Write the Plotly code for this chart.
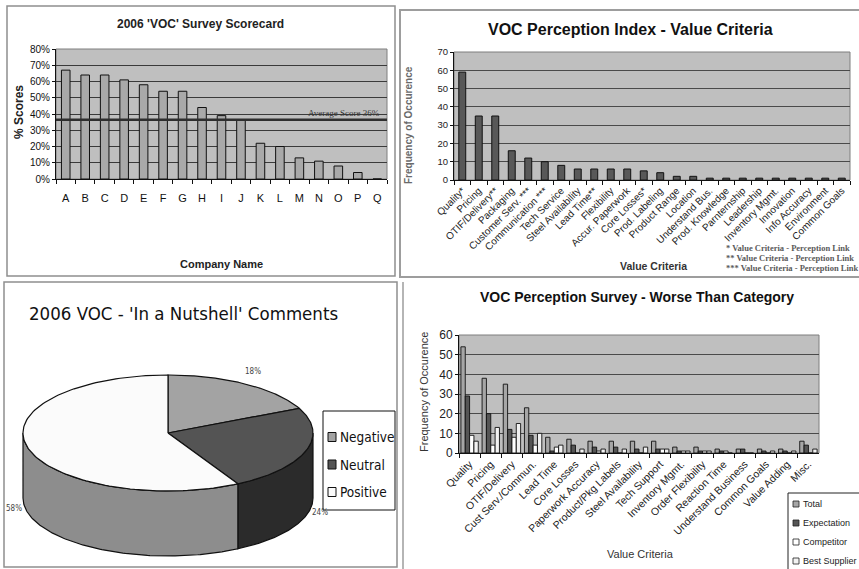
import numpy as np
import plotly.graph_objects as go

W, H = 859, 569

# ---- 2006 'VOC' Survey Scorecard (percent scores per company)
companies = list("ABCDEFGHIJKLMNOPQ")
scores_pct = [67, 64, 64, 61, 58, 54, 54, 44, 39, 36, 22, 20, 13, 11, 8, 4, 0]

# ---- VOC Perception Index - Value Criteria
criteria = ["Quality*", "Pricing", "OTIF/Delivery**", "Packaging", "Customer Serv. ***",
            "Communication ***", "Tech Service", "Steel Availability", "Lead Time**",
            "Flexibility", "Accur. Paperwork", "Core Losses*", "Prod. Labeling",
            "Product Range", "Location", "Understand Bus.", "Prod. Knowledge",
            "Parnternship", "Leadership", "Inventory Mgmt.", "Innovation",
            "Info Accuracy", "Environment", "Common Goals"]
criteria_freq = [59, 35, 35, 16, 12, 10, 8, 6, 6, 6, 6, 5, 4, 2, 2,
                 1, 1, 1, 1, 1, 1, 1, 1, 1]
footnotes = ["* Value Criteria - Perception Link",
             "** Value Criteria - Perception Link",
             "*** Value Criteria - Perception Link"]

# ---- 2006 VOC - 'In a Nutshell' Comments
comment_types = ["Negative", "Neutral", "Positive"]
comment_pct = [18, 24, 58]

# ---- VOC Perception Survey - Worse Than Category
worse_categories = ["Quality", "Pricing", "OTIF/Delivery", "Cust Serv./Commun.", "Lead Time",
                    "Core Losses", "Paperwork Accuracy", "Product/Pkg Labels",
                    "Steel Availability", "Tech Support", "Inventory Mgmt.",
                    "Order Flexibility", "Reaction Time", "Understand Business",
                    "Common Goals", "Value Adding", "Misc."]
worse_series = ["Total", "Expectation", "Competitor", "Best Supplier"]
worse_total = [54, 38, 35, 23, 8, 7, 6, 6, 6, 6, 3, 3, 2, 2, 2, 2, 6]
worse_expectation = [29, 20, 12, 9, 1, 4, 3, 3, 2, 2, 1, 1, 1, 2, 1, 1, 4]
worse_competitor = [9, 4, 8, 4, 3, 0, 1, 0, 0, 2, 1, 1, 1, 0, 0, 0, 0]
worse_best = [6, 13, 15, 10, 4, 2, 2, 2, 3, 2, 1, 1, 0, 0, 1, 1, 2]

ARIAL = "Arial, Liberation Sans, Helvetica, sans-serif"
NARROW = "Liberation Sans Narrow, Arial Narrow, DejaVu Sans Condensed, sans-serif"
SERIF = "Times New Roman, Liberation Serif, serif"
PLOT_BG = "#bfbfbf"


def px(x):
    return x / W


def py(y):
    return 1 - y / H


annotations = []


def label(text, x, y, size, family=ARIAL, color="#111", angle=0,
          xanchor="center", yanchor="middle", xref="paper", yref="paper"):
    if xref == "paper":
        x = px(x)
    if yref == "paper":
        y = py(y)
    annotations.append(dict(text=text, x=x, y=y, xref=xref, yref=yref,
                            showarrow=False, textangle=angle,
                            xanchor=xanchor, yanchor=yanchor,
                            font=dict(size=size, family=family, color=color)))


fig = go.Figure()

# ---------------- scorecard bars
fig.add_trace(go.Bar(
    x=companies, y=[s / 100 for s in scores_pct], xaxis="x", yaxis="y",
    width=0.44, marker=dict(color="#a9a9a9", line=dict(color="#111", width=1)),
    hoverinfo="skip", showlegend=False))
avg_score = float(np.mean(scores_pct)) / 100

# ---------------- perception index bars
fig.add_trace(go.Bar(
    x=criteria, y=criteria_freq, xaxis="x2", yaxis="y2",
    width=0.42, marker=dict(color="#585858", line=dict(color="#111", width=1)),
    hoverinfo="skip", showlegend=False))

# ---------------- worse-than grouped bars
worse_values = [worse_total, worse_expectation, worse_competitor, worse_best]
worse_colors = ["#a6a6a6", "#555555", "#ffffff", "#f2f2f2"]
for name, vals, col in zip(worse_series, worse_values, worse_colors):
    fig.add_trace(go.Bar(
        x=worse_categories, y=vals, name=name, xaxis="x3", yaxis="y3",
        marker=dict(color=col, line=dict(color="#111", width=0.9)),
        hoverinfo="skip", showlegend=False))

# ---------------- 3-D style pie built from the comment shares
cx, cy, rx, ry, depth = 168, 433, 145, 58, 65
top_colors = ["#a3a3a3", "#545454", "#fbfbfb"]
side_colors = ["#7a7a7a", "#2b2b2b", "#8d8d8d"]
total = float(sum(comment_pct))
start = 90.0
tops, sides, pct_labels = [], [], []
for name, share, tcol, scol in zip(comment_types, comment_pct, top_colors, side_colors):
    span = 360.0 * share / total
    a0, a1 = start, start - span
    t = np.radians(np.linspace(a0, a1, 120))
    xs = np.concatenate([[cx], cx + rx * np.cos(t), [cx]])
    ys = np.concatenate([[cy], cy - ry * np.sin(t), [cy]])
    tops.append((xs, ys, tcol))
    lo, hi = max(a1, -180.0), min(a0, 0.0)
    if hi > lo:
        ts = np.radians(np.linspace(hi, lo, 120))
        sx = np.concatenate([cx + rx * np.cos(ts), (cx + rx * np.cos(ts))[::-1]])
        sy = np.concatenate([cy - ry * np.sin(ts), (cy - ry * np.sin(ts) + depth)[::-1]])
        sides.append((np.append(sx, sx[0]), np.append(sy, sy[0]), scol))
    m = np.radians((a0 + a1) / 2)
    lx = cx + 1.1 * rx * np.cos(m)
    ly = cy - 1.25 * ry * np.sin(m) + (0.88 * depth if np.sin(m) < 0 else 0)
    pct_labels.append((f"{share}%", lx, ly))
    start = a1

for xs, ys, col in sides + tops:
    fig.add_trace(go.Scatter(
        x=xs, y=ys, xaxis="x4", yaxis="y4", mode="lines", fill="toself",
        fillcolor=col, line=dict(color="#111", width=1.2),
        hoverinfo="skip", showlegend=False))

for text, lx, ly in pct_labels:
    label(text, lx, ly, 8, family=NARROW, color="#444", xref="x4", yref="y4")

# ---------------- shapes: panel frames, plot backgrounds, average line, legends
shapes = []


def frame(x0, y0, x1, y1, color="#8f8f8f", width=1.5):
    shapes.append(dict(type="rect", xref="paper", yref="paper",
                       x0=px(x0), x1=px(x1), y0=py(y1), y1=py(y0),
                       line=dict(color=color, width=width), fillcolor="rgba(0,0,0,0)",
                       layer="below"))


frame(7, 6, 395, 276)
frame(400, 10, 880, 277, color="#9d9d9d", width=2)
frame(4, 282, 397, 567)
shapes.append(dict(type="line", xref="paper", yref="paper", x0=px(403), x1=px(403),
                   y0=py(282), y1=py(575), line=dict(color="#9d9d9d", width=1.5)))

for ax in ["x", "x2", "x3"]:
    yax = "y" + ax[1:]
    shapes.append(dict(type="rect", xref=f"{ax} domain", yref=f"{yax} domain",
                       x0=0, x1=1, y0=0, y1=1, fillcolor=PLOT_BG,
                       line=dict(color="#7f7f7f", width=1), layer="below"))

shapes.append(dict(type="line", xref="x domain", yref="y", x0=0, x1=1,
                   y0=avg_score, y1=avg_score, line=dict(color="#2e2e2e", width=2.5)))
label(f"Average Score {avg_score * 100:.0f}%", 0.985, avg_score, 9, family=SERIF,
      color="#333", xanchor="right", yanchor="bottom", xref="x domain", yref="y")

# pie legend
shapes.append(dict(type="rect", xref="x4", yref="y4", x0=323, x1=395, y0=411, y1=510,
                   line=dict(color="#111", width=1), fillcolor="white"))
for i, (name, col) in enumerate(zip(comment_types, top_colors)):
    ey = 437 + i * 27.5
    shapes.append(dict(type="rect", xref="x4", yref="y4", x0=328, x1=336,
                       y0=ey - 4.5, y1=ey + 4.5, fillcolor=col,
                       line=dict(color="#111", width=1)))
    label(name, 338, ey, 13.5, family=NARROW, color="#111", xanchor="left",
          xref="x4", yref="y4")

# worse-than legend
shapes.append(dict(type="rect", xref="paper", yref="paper", x0=px(788), x1=px(880),
                   y0=py(580), y1=py(493), line=dict(color="#222", width=1),
                   fillcolor="white"))
for i, (name, col) in enumerate(zip(worse_series, worse_colors)):
    ey = 504 + i * 19
    shapes.append(dict(type="rect", xref="paper", yref="paper", x0=px(793), x1=px(799),
                       y0=py(ey + 3), y1=py(ey - 3), fillcolor=col,
                       line=dict(color="#222", width=0.8)))
    label(name, 801, ey, 9, color="#222", xanchor="left")

# ---------------- titles and axis titles
label("<b>2006 'VOC' Survey Scorecard</b>", 200, 24, 12, color="#222")
label("<b>% Scores</b>", 19, 112, 12, color="#222", angle=-90)
label("<b>Company Name</b>", 221, 264, 11, color="#222")

label("<b>VOC Perception Index - Value Criteria</b>", 630, 30, 16, color="#111")
label("<b>Frequency of Occurence</b>", 409, 125, 10, color="#6a6a6a", angle=-90)
label("<b>Value Criteria</b>", 653, 266, 10.5, color="#333")
for i, note in enumerate(footnotes):
    label(f"<b>{note}</b>", 724, 248 + i * 10, 8.5, family=SERIF, color="#5a5a5a",
          xanchor="left")

label("2006 VOC - 'In a Nutshell' Comments", 183, 313, 18.5, family=NARROW, color="#111")

label("<b>VOC Perception Survey - Worse Than Category</b>", 637, 297, 14, color="#111")
label("Frequency of Occurence", 424, 392, 11, color="#333", angle=-90)
label("Value Criteria", 640, 554, 11, color="#333")

# ---------------- axes
common = dict(showline=True, linecolor="#111", linewidth=1, ticks="outside",
              tickcolor="#111", zeroline=False, fixedrange=True, automargin=False)

fig.update_layout(
    width=W, height=H, template="none",
    margin=dict(l=0, r=0, t=0, b=0, pad=0, autoexpand=False),
    paper_bgcolor="white", plot_bgcolor="rgba(0,0,0,0)",
    showlegend=False, barmode="group", bargap=0.18, bargroupgap=0,
    shapes=shapes, annotations=annotations,
    xaxis=dict(domain=[px(56), px(387)], anchor="y", type="category",
               tickson="boundaries", ticklen=4, showgrid=False, ticklabelstandoff=9,
               tickfont=dict(size=11, family=ARIAL, color="#111"), **common),
    yaxis=dict(domain=[py(179), py(49)], anchor="x", range=[0, 0.8], dtick=0.1,
               tickformat=".0%", ticklen=3, showgrid=True, gridcolor="#3a3a3a",
               gridwidth=1, tickfont=dict(size=10, family=ARIAL, color="#111"), **common),
    xaxis2=dict(domain=[px(454), px(850)], anchor="y2", type="category",
                tickson="boundaries", ticklen=4, showgrid=False, tickangle=-45,
                tickfont=dict(size=10, family=ARIAL, color="#222"), **common),
    yaxis2=dict(domain=[py(180), py(52)], anchor="x2", range=[0, 70], dtick=10,
                ticklen=3, showgrid=True, gridcolor="#4a4a4a", gridwidth=1,
                tickfont=dict(size=9.5, family=ARIAL, color="#222"), **common),
    xaxis3=dict(domain=[px(459), px(819)], anchor="y3", type="category",
                tickson="boundaries", ticklen=4, showgrid=False, tickangle=-45,
                tickfont=dict(size=10.5, family=ARIAL, color="#222"), **common),
    yaxis3=dict(domain=[py(453), py(335)], anchor="x3", range=[0, 60], dtick=10,
                ticklen=3, showgrid=True, gridcolor="#4a4a4a", gridwidth=1,
                tickfont=dict(size=12, family=ARIAL, color="#222"), **common),
    xaxis4=dict(domain=[0, px(400)], anchor="y4", range=[0, 400], visible=False,
                fixedrange=True),
    yaxis4=dict(domain=[0, py(280)], anchor="x4", range=[569, 280], visible=False,
                fixedrange=True),
)

fig.write_html("out.html")
